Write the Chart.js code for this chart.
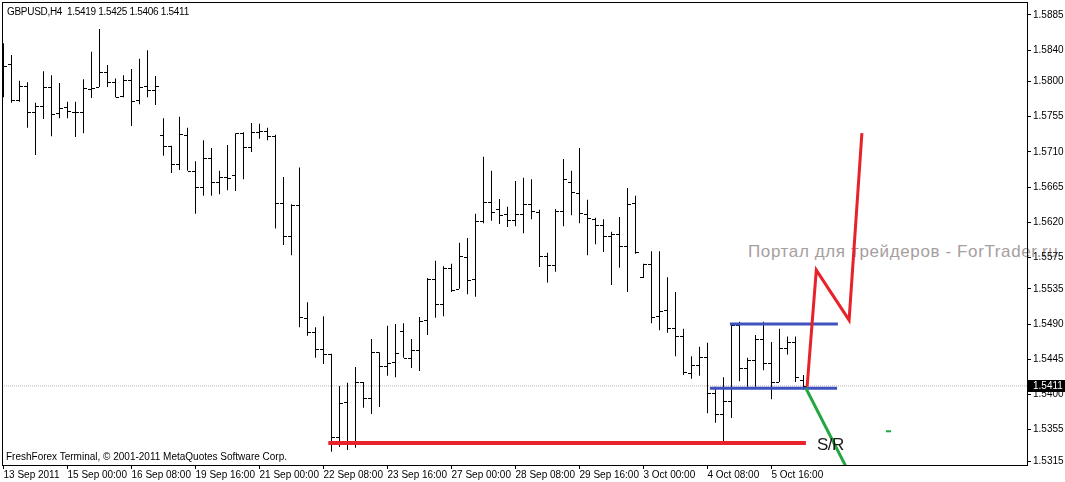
<!DOCTYPE html>
<html>
<head>
<meta charset="utf-8">
<title>GBPUSD H4</title>
<script src="https://cdn.jsdelivr.net/npm/chart.js@4.4.1/dist/chart.umd.min.js"></script>
<style>
  html, body { margin: 0; padding: 0; background: #fff; }
  #wrap { position: relative; width: 1065px; height: 482px; overflow: hidden; }
  #chart { position: absolute; left: 0; top: 0; z-index: 1; }
  .txt { position: absolute; font-family: "Liberation Sans", Arial, sans-serif; white-space: nowrap; line-height: 1; }
  #watermark { z-index: 0; left: 748px; top: 243px; font-size: 17px; color: #a69e9e; letter-spacing: 0.62px; }
  #header { z-index: 2; left: 7px; top: 7px; font-size: 10px; color: #000; letter-spacing: -0.3px; }
  #copyright { z-index: 2; left: 6px; top: 452px; font-size: 10px; color: #000; }
  #sr { z-index: 2; left: 817px; top: 436px; font-size: 17px; color: #1a1a1a; letter-spacing: -0.5px; }
</style>
</head>
<body>
<div id="wrap">
  <div id="watermark" class="txt">Портал для трейдеров - ForTrader.ru</div>
  <canvas id="chart" width="1065" height="482"></canvas>
  <div id="header" class="txt">GBPUSD,H4&nbsp; 1.5419 1.5425 1.5406 1.5411</div>
  <div id="copyright" class="txt">FreshForex Terminal, © 2001-2011 MetaQuotes Software Corp.</div>
  <div id="sr" class="txt">S/R</div>
</div>
<script>
// time axis labels, one every 8 bars
const xLabels = ['13 Sep 2011', '15 Sep 00:00', '16 Sep 08:00', '19 Sep 16:00', '21 Sep 00:00',
  '22 Sep 08:00', '23 Sep 16:00', '27 Sep 00:00', '28 Sep 08:00', '29 Sep 16:00',
  '3 Oct 00:00', '4 Oct 08:00', '5 Oct 16:00'];
const yTickValues = [1.5885, 1.5840, 1.5800, 1.5755, 1.5710, 1.5665, 1.5620, 1.5575,
  1.5535, 1.5490, 1.5445, 1.5400, 1.5355, 1.5315];

// H4 bars (index 0 = 13 Sep 16:00)
const opens = [1.5827, 1.5822, 1.5776, 1.5794, 1.5761, 1.5769, 1.5793, 1.5760, 1.5767, 1.5761,
  1.5761, 1.5790, 1.5793, 1.5812, 1.5799, 1.5781, 1.5802, 1.5776, 1.5794, 1.5789,
  1.5732, 1.5718, 1.5695, 1.5732, 1.5686, 1.5665, 1.5702, 1.5672, 1.5678, 1.5681,
  1.5734, 1.5716, 1.5735, 1.5737, 1.5730, 1.5645, 1.5603, 1.5642, 1.5498, 1.5480,
  1.5458, 1.5452, 1.5346, 1.5390, 1.5341, 1.5416, 1.5396, 1.5454, 1.5436, 1.5442,
  1.5481, 1.5447, 1.5457, 1.5495, 1.5548, 1.5516, 1.5562, 1.5535, 1.5576, 1.5548,
  1.5622, 1.5646, 1.5637, 1.5631, 1.5623, 1.5631, 1.5643, 1.5633, 1.5577, 1.5566,
  1.5635, 1.5672, 1.5658, 1.5631, 1.5624, 1.5617, 1.5603, 1.5605, 1.5590, 1.5645,
  1.5550, 1.5567, 1.5500, 1.5508, 1.5485, 1.5475, 1.5427, 1.5438, 1.5448, 1.5402,
  1.5375, 1.5392, 1.5489, 1.5434, 1.5444, 1.5471, 1.5440, 1.5416, 1.5459, 1.5467,
  1.5419];
const highs = [1.5849, 1.5834, 1.5801, 1.5799, 1.5773, 1.5813, 1.5808, 1.5798, 1.5774, 1.5774,
  1.5803, 1.5838, 1.5867, 1.5821, 1.5804, 1.5808, 1.5816, 1.5829, 1.5840, 1.5807,
  1.5753, 1.5718, 1.5755, 1.5741, 1.5698, 1.5725, 1.5715, 1.5686, 1.5719, 1.5734,
  1.5735, 1.5747, 1.5746, 1.5741, 1.5732, 1.5678, 1.5643, 1.5690, 1.5518, 1.5486,
  1.5500, 1.5452, 1.5411, 1.5415, 1.5435, 1.5416, 1.5471, 1.5454, 1.5488, 1.5490,
  1.5491, 1.5471, 1.5499, 1.5549, 1.5571, 1.5564, 1.5567, 1.5594, 1.5600, 1.5631,
  1.5704, 1.5686, 1.5650, 1.5640, 1.5673, 1.5677, 1.5675, 1.5636, 1.5581, 1.5637,
  1.5701, 1.5686, 1.5715, 1.5649, 1.5626, 1.5624, 1.5608, 1.5627, 1.5664, 1.5654,
  1.5567, 1.5583, 1.5583, 1.5550, 1.5531, 1.5484, 1.5449, 1.5461, 1.5466, 1.5410,
  1.5422, 1.5491, 1.5493, 1.5447, 1.5476, 1.5493, 1.5467, 1.5484, 1.5474, 1.5474,
  1.5425];
const lows = [1.5780, 1.5773, 1.5774, 1.5741, 1.5706, 1.5752, 1.5730, 1.5753, 1.5753, 1.5729,
  1.5734, 1.5779, 1.5793, 1.5793, 1.5780, 1.5780, 1.5743, 1.5771, 1.5780, 1.5770,
  1.5705, 1.5683, 1.5687, 1.5686, 1.5631, 1.5654, 1.5654, 1.5656, 1.5661, 1.5660,
  1.5675, 1.5710, 1.5727, 1.5725, 1.5612, 1.5591, 1.5578, 1.5486, 1.5475, 1.5447,
  1.5439, 1.5327, 1.5333, 1.5329, 1.5332, 1.5383, 1.5375, 1.5384, 1.5424, 1.5422,
  1.5447, 1.5434, 1.5430, 1.5476, 1.5498, 1.5500, 1.5531, 1.5535, 1.5528, 1.5525,
  1.5619, 1.5622, 1.5618, 1.5614, 1.5615, 1.5606, 1.5624, 1.5563, 1.5543, 1.5557,
  1.5615, 1.5629, 1.5619, 1.5578, 1.5592, 1.5582, 1.5540, 1.5562, 1.5531, 1.5580,
  1.5549, 1.5491, 1.5482, 1.5479, 1.5449, 1.5425, 1.5420, 1.5424, 1.5376, 1.5364,
  1.5339, 1.5370, 1.5417, 1.5410, 1.5410, 1.5431, 1.5394, 1.5416, 1.5451, 1.5416,
  1.5406];
const closes = [1.5820, 1.5776, 1.5794, 1.5761, 1.5769, 1.5793, 1.5758, 1.5766, 1.5762, 1.5761,
  1.5792, 1.5792, 1.5812, 1.5799, 1.5780, 1.5802, 1.5775, 1.5793, 1.5789, 1.5794,
  1.5718, 1.5695, 1.5733, 1.5686, 1.5665, 1.5702, 1.5672, 1.5678, 1.5677, 1.5734,
  1.5716, 1.5735, 1.5737, 1.5730, 1.5645, 1.5603, 1.5642, 1.5499, 1.5480, 1.5458,
  1.5452, 1.5346, 1.5389, 1.5341, 1.5416, 1.5396, 1.5454, 1.5436, 1.5440, 1.5453,
  1.5447, 1.5457, 1.5494, 1.5548, 1.5516, 1.5562, 1.5534, 1.5577, 1.5546, 1.5622,
  1.5646, 1.5633, 1.5629, 1.5623, 1.5631, 1.5643, 1.5635, 1.5577, 1.5566, 1.5635,
  1.5675, 1.5659, 1.5632, 1.5626, 1.5617, 1.5603, 1.5605, 1.5590, 1.5643, 1.5582,
  1.5567, 1.5499, 1.5507, 1.5485, 1.5475, 1.5429, 1.5438, 1.5448, 1.5402, 1.5375,
  1.5392, 1.5489, 1.5434, 1.5444, 1.5471, 1.5440, 1.5416, 1.5459, 1.5467, 1.5422,
  1.5411];

const bidPrice = 1.5411;

// drawn objects (x in bar index units)
const supportX = [40.6, 100.3];
const supportY = [1.5338, 1.5338];
const rangeTopX = [90.8, 104.3];
const rangeTopY = [1.5490, 1.5490];
const rangeBottomX = [88.3, 104.2];
const rangeBottomY = [1.5408, 1.5408];
const upPathX = [100.45, 101.6, 105.7, 107.3];
const upPathY = [1.5410, 1.5559, 1.5495, 1.5734];
const downPathX = [100.3, 105.25];
const downPathY = [1.5408, 1.5309];
const markX = [110.3, 110.95];
const markY = [1.5353, 1.5353];

const xMin = -0.1875, xMax = 127.9375;
const yMin = 1.530991, yMax = 1.590161;

function pts(xs, ys) {
  return xs.map(function(x, i) { return { x: x, y: ys[i] }; });
}

function lineSet(xs, ys, color, width, order) {
  return {
    type: 'line',
    data: pts(xs, ys),
    borderColor: color,
    borderWidth: width,
    pointRadius: 0,
    fill: false,
    tension: 0,
    order: order
  };
}

// open / close ticks, drawn right after the high-low bars
const ohlcTicks = {
  id: 'ohlcTicks',
  afterDatasetDraw(chart, args) {
    if (args.index !== 0) return;
    const ctx = chart.ctx;
    const x = chart.scales.x, y = chart.scales.y, a = chart.chartArea;
    ctx.save();
    ctx.beginPath();
    ctx.rect(a.left, a.top, a.right - a.left, a.bottom - a.top);
    ctx.clip();
    ctx.fillStyle = '#000';
    for (let i = 0; i < opens.length; i++) {
      const px = Math.floor(x.getPixelForValue(i));
      ctx.fillRect(px - 3, Math.round(y.getPixelForValue(opens[i])), 3, 1);
      ctx.fillRect(px + 1, Math.round(y.getPixelForValue(closes[i])), 3, 1);
    }
    ctx.restore();
  }
};

// chart frame and the current price box on the right scale
const frame = {
  id: 'frame',
  afterDraw(chart) {
    const ctx = chart.ctx, a = chart.chartArea, y = chart.scales.y;
    ctx.save();
    ctx.strokeStyle = '#000';
    ctx.lineWidth = 1;
    ctx.strokeRect(a.left + 0.5, a.top + 0.5, a.right - a.left, a.bottom - a.top);
    const py = Math.round(y.getPixelForValue(bidPrice));
    ctx.fillStyle = '#000';
    ctx.fillRect(a.right + 1, py - 6, 1065 - a.right, 12);
    ctx.fillStyle = '#fff';
    ctx.font = '10px "Liberation Sans", Arial, sans-serif';
    ctx.textBaseline = 'middle';
    ctx.textAlign = 'left';
    ctx.fillText(bidPrice.toFixed(4), a.right + 6, py + 0.5);
    ctx.restore();
  }
};

const ctx = document.getElementById('chart');

new Chart(ctx, {
  type: 'line',
  data: {
    datasets: [
      {
        type: 'bar',
        data: highs.map(function(h, i) { return { x: i, y: [lows[i], h] }; }),
        backgroundColor: '#000',
        borderWidth: 0,
        barThickness: 1,
        inflateAmount: 0,
        grouped: false,
        order: 10
      },
      Object.assign(lineSet([xMin, xMax], [bidPrice, bidPrice], '#b9aeb6', 1, 11), { borderDash: [1, 1] }),
      lineSet(supportX, supportY, '#e8222b', 4, 5),
      lineSet(rangeTopX, rangeTopY, '#4051c0', 3, 4),
      lineSet(rangeBottomX, rangeBottomY, '#4051c0', 3, 4),
      lineSet(downPathX, downPathY, '#25a645', 3, 3),
      lineSet(upPathX, upPathY, '#e8222b', 3, 2),
      lineSet(markX, markY, '#25a645', 2, 1)
    ]
  },
  options: {
    responsive: false,
    animation: false,
    events: [],
    layout: { padding: { left: 2, top: 2, right: 0, bottom: 0 } },
    plugins: { legend: { display: false }, tooltip: { enabled: false } },
    scales: {
      x: {
        type: 'linear',
        min: xMin,
        max: xMax,
        offset: false,
        grid: { offset: false, drawOnChartArea: false, drawTicks: true, tickLength: 4, color: '#000' },
        border: { display: false },
        afterBuildTicks: function(scale) {
          scale.ticks = xLabels.map(function(l, i) { return { value: i * 8 }; });
        },
        afterFit: function(scale) {
          scale.height = 17;
          scale.paddingLeft = 0;
          scale.paddingRight = 0;
        },
        ticks: {
          autoSkip: false,
          maxRotation: 0,
          align: 'start',
          padding: 0,
          color: '#000',
          font: { family: '"Liberation Sans", Arial, sans-serif', size: 10 },
          callback: function(value, index) { return xLabels[index]; }
        }
      },
      y: {
        type: 'linear',
        position: 'right',
        min: yMin,
        max: yMax,
        grid: { drawOnChartArea: false, drawTicks: true, tickLength: 4, color: '#000' },
        border: { display: false },
        afterBuildTicks: function(scale) {
          scale.ticks = yTickValues.map(function(v) { return { value: v }; });
        },
        afterFit: function(scale) {
          scale.width = 38;
          scale.paddingTop = 0;
          scale.paddingBottom = 0;
        },
        ticks: {
          padding: 2,
          color: '#000',
          font: { family: '"Liberation Sans", Arial, sans-serif', size: 10 },
          callback: function(value) { return value.toFixed(4); }
        }
      }
    }
  },
  plugins: [ohlcTicks, frame]
});
</script>
</body>
</html>
